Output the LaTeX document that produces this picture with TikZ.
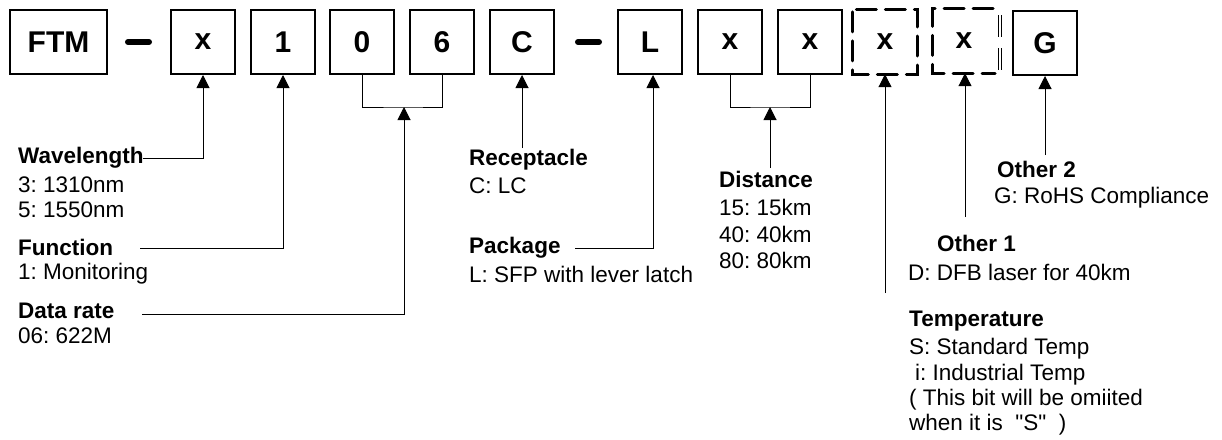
\documentclass[tikz,border=0pt]{standalone}
\usepackage{fontspec}
\setmainfont{Liberation Sans}[Ligatures=TeXOff]
\usetikzlibrary{arrows.meta}
\frenchspacing
\begin{document}
\begin{tikzpicture}[x=1pt,y=-1pt,
  codebox/.style={draw,line width=2pt,minimum width=64pt,minimum height=64pt,inner sep=0pt,font=\fontsize{30}{32}\selectfont\bfseries},
  dbox/.style={minimum width=64pt,minimum height=64pt,inner sep=0pt,font=\fontsize{30}{32}\selectfont\bfseries},
  dashline/.style={line width=3pt,dash pattern=on 20pt off 9pt,line cap=round},
  hyph/.style={line width=6pt,line cap=round},
  conn/.style={line width=1pt},
  arr/.style={line width=1pt,-{Triangle[length=13pt,width=13pt]}},
  ttl/.style={anchor=base west,inner sep=0pt,font=\fontsize{22.5}{26}\selectfont\bfseries},
  txt/.style={anchor=base west,inner sep=0pt,font=\fontsize{22.5}{26}\selectfont}]
\useasboundingbox (0,0) rectangle (1222,439);
% code boxes
\node[codebox,minimum width=97pt] (ftm) at (58.5,42) {FTM};
\coordinate (h1a) at (128,42); \coordinate (h1b) at (149,42);
\draw[hyph] (h1a) -- (h1b);
\node[codebox] (bx) at (203,42) {x};
\node[codebox] (b1) at (283,42) {1};
\node[codebox] (b0) at (362,42) {0};
\node[codebox] (b6) at (442,42) {6};
\node[codebox] (bc) at (522,42) {C};
\coordinate (h2a) at (578,42); \coordinate (h2b) at (599,42);
\draw[hyph] (h2a) -- (h2b);
\node[codebox] (bl) at (650,42) {L};
\node[codebox] (bx2) at (730,42) {x};
\node[codebox] (bx3) at (810,42) {x};
\node[dbox] (dx1) at (885,42) {x};
\node[dbox,minimum width=62pt] (dx2) at (964,41) {x};
\node[codebox] (bg) at (1045,43) {G};
% dashed boxes
\draw[dashline,dash phase=-2pt] (dx1.north west) rectangle (dx1.south east);
\draw[dashline,dash phase=-2pt] (dx2.north east) -- (dx2.north west) -- (dx2.south west) -- (dx2.south east);
\coordinate (db1) at (1000,15); \coordinate (db2) at (1000,37);
\coordinate (db3) at (1000,48); \coordinate (db4) at (1000,70);
\draw[line width=3.5pt] (db1) -- (db2) (db3) -- (db4);
\draw[line width=1.5pt,white] (db1) -- (db2) (db3) -- (db4);
% brackets
\coordinate (br1) at (404,107);
\draw[conn] (b0.south) |- (br1) -| (b6.south);
\coordinate (br2) at (770,107);
\draw[conn] (bx2.south) |- (br2) -| (bx3.south);
% labels
\node[ttl] (wl) at (18,163) {Wavelength};
\node[txt] (wl1) at (18,192) {3: 1310nm};
\node[txt] (wl2) at (18,217) {5: 1550nm};
\node[ttl] (fn) at (18,255) {Function};
\node[txt] (fn1) at (18,279) {1: Monitoring};
\node[ttl] (dr) at (18,318) {Data rate};
\node[txt] (dr1) at (18,343) {06: 622M};
\node[ttl] (rc) at (469,165) {Receptacle};
\node[txt] (rc1) at (469,193) {C: LC};
\node[ttl] (pk) at (469,253) {Package};
\node[txt] (pk1) at (469,282) {L: SFP with lever latch};
\node[ttl] (ds) at (719,187) {Distance};
\node[txt] (ds1) at (719,215) {15: 15km};
\node[txt] (ds2) at (719,242) {40: 40km};
\node[txt] (ds3) at (719,268) {80: 80km};
\node[ttl] (o2) at (997,177) {Other 2};
\node[txt] (o21) at (994,203) {G: RoHS Compliance};
\node[ttl] (o1) at (937,251) {Other 1};
\node[txt] (o11) at (908,280) {D: DFB laser for 40km};
\node[ttl] (tp) at (909,326) {Temperature};
\node[txt] (tp1) at (909,354) {S: Standard Temp};
\node[txt] (tp2) at (915,380) {i: Industrial Temp};
\node[txt] (tp3) at (909,405) {( This bit will be omiited};
\node[txt] (tp4) at (909,430) {when it is\ \ "S"\ \ )};
% connectors
\coordinate (cwl) at (143,158);
\draw[arr] (cwl) -| (bx.south);
\coordinate (cfn) at (140,248);
\draw[arr] (cfn) -| (b1.south);
\coordinate (cdr) at (142,314);
\draw[arr] (cdr) -| (br1);
\coordinate (crc) at (522,148);
\draw[arr] (crc) -- (bc.south);
\coordinate (cpk) at (575,248);
\draw[arr] (cpk) -| ([xshift=3pt]bl.south);
\coordinate (cds) at (770,168);
\draw[arr] (cds) -- (br2);
\coordinate (ctp) at (885,293);
\draw[arr] (ctp) -- (dx1.south);
\coordinate (co1) at (965,217);
\draw[arr] (co1) -- (dx2.south -| co1);
\coordinate (co2) at (1045,155);
\draw[arr] (co2) -- (bg.south);
\end{tikzpicture}
\end{document}
